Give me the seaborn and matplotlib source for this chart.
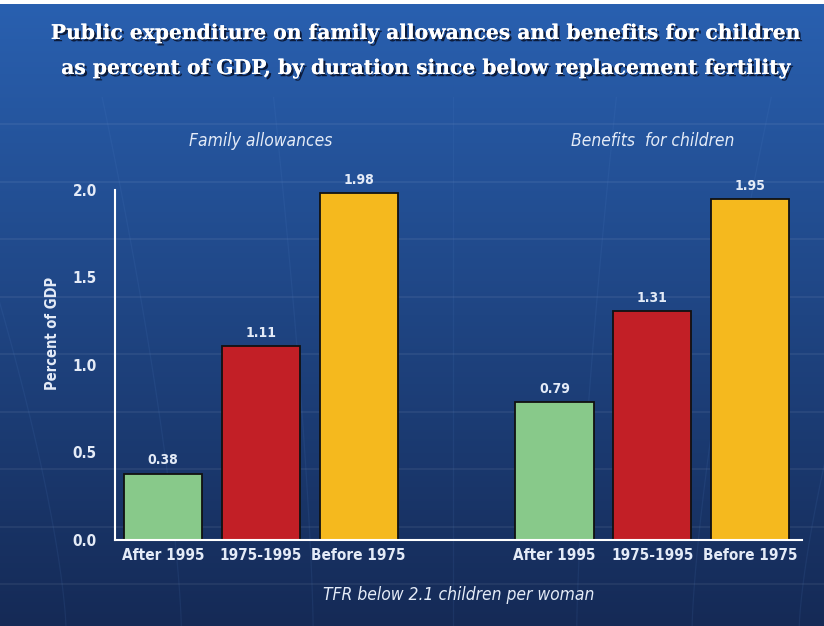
import numpy as np
import pandas as pd
import matplotlib
matplotlib.use("Agg")
import matplotlib.pyplot as plt
import matplotlib.patheffects as pe
from matplotlib.colors import to_rgb
import seaborn as sns

# Data
groups = ["Family allowances", "Benefits  for children"]
periods = ["After 1995", "1975-1995", "Before 1975"]
family_allowances = [0.38, 1.11, 1.98]
benefits_for_children = [0.79, 1.31, 1.95]
period_colors = ["#88c98a", "#c21f26", "#f5b91e"]

sns.set_theme(style="white")
plt.rcParams["font.family"] = ["DejaVu Sans"]
plt.rcParams["font.stretch"] = "condensed"

TEXT = "#e4ebf7"

slots = [0, 1, 2, 4, 5, 6]
df = pd.DataFrame({
    "slot": slots,
    "value": family_allowances + benefits_for_children,
    "period": periods * 2,
})

fig = plt.figure(figsize=(8.24, 6.26), dpi=100)
fig.patch.set_facecolor("white")

# Gradient backdrop with faint globe-like lines
bg = fig.add_axes([0, 0, 1, 1 - 4 / 626])
top_c = np.array(to_rgb("#2960b0"))
bot_c = np.array(to_rgb("#152a56"))
t = np.linspace(0, 1, 512)[:, None, None]
img = top_c + (bot_c - top_c) * t
bg.imshow(img, aspect="auto", extent=[0, 1, 0, 1], interpolation="bilinear")
for ypx in np.arange(120, 600, 57.5):
    y = 1 - ypx / 622
    bg.axhline(y, color="white", alpha=0.07, lw=1.2)
yy = np.linspace(0, 0.85, 100)
for x0, bend in [(0.08, -0.10), (0.22, -0.06), (0.38, -0.03), (0.55, 0.0),
                 (0.70, 0.03), (0.84, 0.06), (0.97, 0.10)]:
    xx = x0 + bend * (yy / 0.85) ** 1.4 * 1.6
    bg.plot(xx, yy, color="#5a8ad0", alpha=0.11, lw=0.9)
bg.set_xlim(0, 1)
bg.set_ylim(0, 1)
bg.axis("off")

# Bars
ax = fig.add_axes([115 / 824, 86 / 626, 687 / 824, 350 / 626])
ax.patch.set_alpha(0)
sns.barplot(data=df, x="slot", y="value", hue="period", hue_order=periods,
            palette=period_colors, saturation=1, native_scale=True, dodge=False,
            width=0.8, edgecolor="#111111", linewidth=1.3, legend=False, ax=ax)

ax.set_xlim(-0.49, 6.53)
ax.set_ylim(0, 2.0)
for side in ("top", "right"):
    ax.spines[side].set_visible(False)
for side in ("left", "bottom"):
    ax.spines[side].set_color("white")
    ax.spines[side].set_linewidth(1.5)

ax.set_xticks(slots)
ax.set_xticklabels(periods * 2)
ax.set_yticks([0, 0.5, 1.0, 1.5, 2.0])
ax.set_yticklabels(["0.0", "0.5", "1.0", "1.5", "2.0"])
ax.tick_params(axis="both", length=0, colors=TEXT, labelsize=11)
ax.tick_params(axis="x", pad=6)
ax.tick_params(axis="y", pad=13)
for lbl in ax.get_xticklabels() + ax.get_yticklabels():
    lbl.set_fontweight("bold")
    lbl.set_fontstretch("condensed")

ax.set_xlabel("TFR below 2.1 children per woman", color=TEXT, fontsize=12.5,
              style="italic", stretch="condensed", labelpad=16)
ax.set_ylabel("Percent of GDP", color=TEXT, fontsize=10.5, fontweight="bold",
              stretch="condensed")
ax.yaxis.set_label_coords(-0.08, 0.59)

# Value labels
for x, v in zip(df["slot"], df["value"]):
    ax.text(x, v + 0.035, f"{v:.2f}", ha="center", va="bottom", color=TEXT,
            fontsize=10, fontweight="bold", stretch="condensed", clip_on=False)

# Group headings
for cx, g in zip([1, 5], groups):
    ax.text(cx, 2.28, g, ha="center", va="center", color=TEXT, fontsize=12.5,
            style="italic", stretch="condensed", clip_on=False)

# Title
shadow = [pe.withSimplePatchShadow(offset=(1.6, -1.6), shadow_rgbFace="#0a1530", alpha=0.9),
          pe.Normal()]
for ypx, line in [(33, "Public expenditure on family allowances and benefits for children"),
                  (68, "as percent of GDP, by duration since below replacement fertility")]:
    fig.text(0.517, 1 - ypx / 626, line, ha="center", va="center", color="white",
             fontsize=14.6, fontweight="bold", family=["DejaVu Serif"],
             stretch="normal", path_effects=shadow)

fig.savefig("out.png", dpi=100)
